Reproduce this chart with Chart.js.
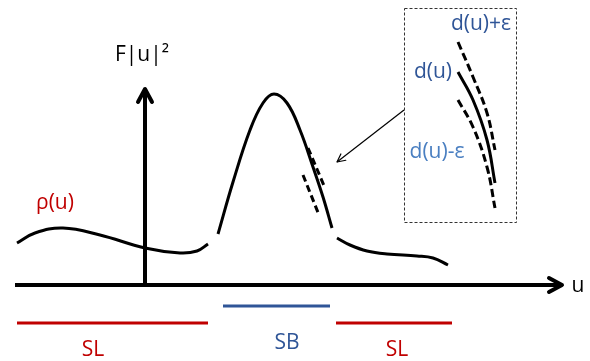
<!DOCTYPE html>
<html>
<head>
<meta charset="utf-8">
<script src="https://cdn.jsdelivr.net/npm/chart.js@4.4.0/dist/chart.umd.min.js"></script>
<style>
  html, body { margin: 0; padding: 0; background: #fff; }
  #myChart { display: block; }
</style>
</head>
<body>
<canvas id="myChart" width="590" height="361"></canvas>
<script>
// u = horizontal value, F = vertical value, origin where the two axes meet
const rhoU = [-128, -110, -82, -45, 0, 35, 52, 63];
const rhoF = [42, 52, 57, 50, 37, 32, 34, 41];

const peakU = [73, 88, 105, 118, 129, 142, 155, 168, 178, 187];
const peakF = [51, 103, 155, 182, 191, 182, 155, 118, 88, 57];

const tailU = [192, 205, 222, 242, 272, 288, 303];
const tailF = [47, 40, 34, 31, 29, 27, 20];

// small dashed bounds next to the peak
const nearUpU = [163, 180];
const nearUpF = [137, 97];
const nearLowU = [158, 174];
const nearLowF = [110, 70];

// zoomed view inside the box: d(u)+e, d(u), d(u)-e
const zoomU = [313, 328, 342, 350];
const zoomPlusF = [243, 208, 172, 135];
const zoomMidF = [213, 185, 145, 102];
const zoomMinusF = [185, 158, 118, 77];

// axes
const axisUU = [-130, 417];
const axisUF = [0, 0];
const axisFU = [0, 0];
const axisFF = [0, 196];

// bands under the axis
const slLeftU = [-128, 63];
const sbU = [78, 185];
const slRightU = [191, 307];
const slF = -38;
const sbF = -21;

// box and the pointer from it
const boxU = [259, 371];
const boxF = [63, 277];
const pointerU = [259, 192];
const pointerF = [175, 123];

const labelTexts = ['F|u|²', 'u', 'ρ(u)', 'SL', 'SB', 'SL', 'd(u)+ε', 'd(u)', 'd(u)-ε'];
const labelU = [-3, 433, -90, -52, 142, 252, 336, 288, 292];
const labelF = [230, -1, 82, -65, -58, -65, 261, 213, 133];
const labelColors = ['#000', '#000', '#c00000', '#c00000', '#2f5597', '#c00000', '#2f5597', '#2f5597', '#4a7fc1'];

const RED = '#c00000';
const BLUE = '#2f5597';

const pts = (us, fs) => us.map((u, i) => ({x: u, y: Array.isArray(fs) ? fs[i] : fs}));

const line = (data, color, width, dash, smooth) => ({
  data: data,
  showLine: true,
  borderColor: color,
  borderWidth: width,
  borderDash: dash || [],
  borderCapStyle: 'butt',
  pointRadius: 0,
  tension: smooth ? 0.4 : 0,
  fill: false
});

function head(ctx, x1, y1, x2, y2, len, half, width) {
  const a = Math.atan2(y2 - y1, x2 - x1);
  const bx = x2 - len * Math.cos(a), by = y2 - len * Math.sin(a);
  const nx = -Math.sin(a) * half, ny = Math.cos(a) * half;
  ctx.save();
  ctx.strokeStyle = '#000';
  ctx.lineWidth = width;
  ctx.lineJoin = 'round';
  ctx.lineCap = 'round';
  ctx.setLineDash([]);
  ctx.beginPath();
  ctx.moveTo(bx + nx, by + ny);
  ctx.lineTo(x2, y2);
  ctx.lineTo(bx - nx, by - ny);
  ctx.stroke();
  ctx.restore();
}

const extras = {
  id: 'extras',
  afterDatasetsDraw(chart) {
    const ctx = chart.ctx;
    const xs = chart.scales.x, ys = chart.scales.y;
    const X = v => xs.getPixelForValue(v), Y = v => ys.getPixelForValue(v);

    // dotted box
    ctx.save();
    ctx.strokeStyle = '#333';
    ctx.lineWidth = 1;
    ctx.setLineDash([3, 2]);
    ctx.strokeRect(X(boxU[0]) + 0.5, Y(boxF[1]) + 0.5, X(boxU[1]) - X(boxU[0]), Y(boxF[0]) - Y(boxF[1]));
    ctx.restore();

    // arrow heads
    head(ctx, X(axisUU[0]), Y(axisUF[0]), X(axisUU[1]), Y(axisUF[1]), 13, 7, 4);
    head(ctx, X(axisFU[0]), Y(axisFF[0]), X(axisFU[1]), Y(axisFF[1]), 13, 7, 4);
    head(ctx, X(pointerU[0]), Y(pointerF[0]), X(pointerU[1]), Y(pointerF[1]), 8, 4, 1.2);

    // texts
    ctx.save();
    ctx.textAlign = 'center';
    ctx.textBaseline = 'middle';
    labelTexts.forEach((t, i) => {
      ctx.fillStyle = labelColors[i];
      ctx.font = '21px "Open Sans", sans-serif';
      ctx.fillText(t, X(labelU[i]), Y(labelF[i]));
    });
    ctx.restore();
  }
};

const config = {
  type: 'scatter',
  data: {
    datasets: [
      line(pts(rhoU, rhoF), '#000', 3, null, true),
      line(pts(peakU, peakF), '#000', 3, null, true),
      line(pts(tailU, tailF), '#000', 3, null, true),
      line(pts(nearUpU, nearUpF), '#000', 3, [7, 4]),
      line(pts(nearLowU, nearLowF), '#000', 3, [7, 4]),
      line(pts(zoomU, zoomPlusF), '#000', 3, [8, 4], true),
      line(pts(zoomU, zoomMidF), '#000', 3, null, true),
      line(pts(zoomU, zoomMinusF), '#000', 3, [8, 4], true),
      line(pts(axisUU, axisUF), '#000', 4),
      line(pts(axisFU, axisFF), '#000', 4),
      line(pts(slLeftU, slF), RED, 3),
      line(pts(sbU, sbF), BLUE, 3),
      line(pts(slRightU, slF), RED, 3),
      line(pts(pointerU, pointerF), '#000', 1.2)
    ]
  },
  options: {
    responsive: false,
    animation: false,
    layout: { padding: 0 },
    plugins: { legend: { display: false }, tooltip: { enabled: false } },
    scales: {
      x: { type: 'linear', min: -145, max: 445, display: false },
      y: { type: 'linear', min: -76, max: 285, display: false }
    }
  },
  plugins: [extras]
};

const myChart = new Chart(document.getElementById('myChart'), config);
</script>
</body>
</html>
